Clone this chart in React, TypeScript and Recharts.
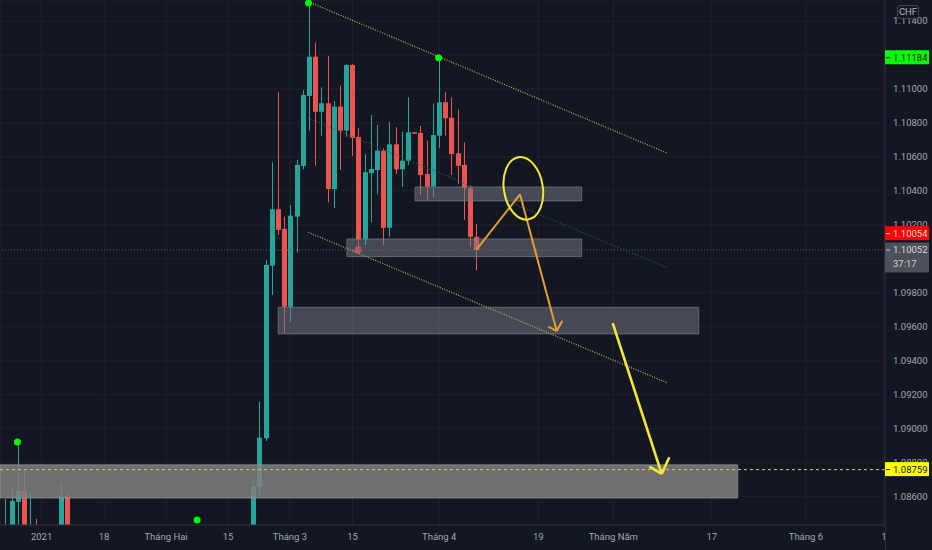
import React from "react";
import {
  ComposedChart,
  Bar,
  XAxis,
  YAxis,
  CartesianGrid,
  ReferenceArea,
  ReferenceLine,
  ReferenceDot,
} from "recharts";

// EUR/CHF daily bars, index = trading day counted from the left edge.
// Only bars that reach above the bottom edge of the pane are listed.
const barIndex = [
  0, 1, 2, 3, 4, 5, 9, 10,
  40, 41, 42, 43, 44, 45, 46, 47, 48, 49, 50, 51, 52, 53, 54, 55, 56, 57, 58,
  59, 60, 61, 62, 63, 64, 65, 66, 67, 68, 69, 70, 71, 72, 73, 74, 75, 76,
];
const opens = [
  1.0835, 1.0838, 1.08569, 1.08633, 1.0836, 1.084, 1.0837, 1.086,
  1.0838, 1.08659, 1.08944, 1.0996, 1.10292, 1.10176, 1.09718, 1.10248, 1.10547, 1.10959, 1.1119, 1.10866,
  1.10916, 1.10411, 1.10896, 1.10755, 1.11141, 1.10717, 1.10115, 1.10504, 1.10523, 1.10637, 1.10183, 1.10674,
  1.10527, 1.10578, 1.10745, 1.10741, 1.105, 1.10425, 1.10725, 1.10922, 1.10831, 1.10621, 1.10553, 1.10415, 1.1013,
];
const highs = [
  1.08586, 1.08651, 1.08922, 1.08757, 1.08633, 1.08469, 1.08681, 1.08635,
  1.0871, 1.09159, 1.09993, 1.10568, 1.10981, 1.10248, 1.10317, 1.10582, 1.10994, 1.11506, 1.11273, 1.1101,
  1.11194, 1.10929, 1.11019, 1.11145, 1.11147, 1.10769, 1.10616, 1.10847, 1.10788, 1.10651, 1.10808, 1.10775,
  1.10749, 1.10951, 1.10747, 1.10782, 1.10696, 1.10916, 1.11184, 1.10981, 1.10951, 1.1088, 1.10686, 1.10431, 1.10205,
];
const lows = [
  1.0828, 1.0832, 1.0838, 1.0832, 1.083, 1.083, 1.0834, 1.0832,
  1.0832, 1.08604, 1.08928, 1.09787, 1.10141, 1.09564, 1.0963, 1.10036, 1.10527, 1.10755, 1.10548, 1.10725,
  1.10333, 1.10298, 1.10523, 1.10719, 1.10607, 1.10033, 1.10082, 1.10213, 1.1038, 1.10082, 1.1013, 1.105,
  1.10425, 1.10553, 1.10735, 1.10376, 1.10347, 1.10362, 1.10651, 1.10725, 1.10494, 1.10441, 1.10229, 1.10072, 1.09934,
];
const closes = [
  1.084, 1.08575, 1.08633, 1.0838, 1.0841, 1.0836, 1.086, 1.0838,
  1.08659, 1.08947, 1.09964, 1.10292, 1.1017, 1.09718, 1.10254, 1.10553, 1.10965, 1.1119, 1.10866, 1.10916,
  1.10411, 1.10896, 1.10755, 1.11141, 1.10713, 1.10115, 1.1051, 1.10529, 1.10637, 1.10183, 1.10674, 1.10527,
  1.10578, 1.10745, 1.10737, 1.10494, 1.10425, 1.10729, 1.10922, 1.10828, 1.10617, 1.10548, 1.10419, 1.1013, 1.10052,
];

const xTickIndex = [5.9, 16, 26, 36, 46, 56.1, 70.1, 86.1, 98.2, 114.1, 129.3, 141.9];
const xTickLabels = ["2021", "18", "Tháng Hai", "15", "Tháng 3", "15", "Tháng 4", "19", "Tháng Năm", "17", "Tháng 6", "1"];
const priceTicks = [
  1.086, 1.088, 1.09, 1.092, 1.094, 1.096, 1.098, 1.1, 1.102, 1.104, 1.106, 1.108, 1.11, 1.112, 1.114,
];
// these two tick labels sit fully under the price tags
const hiddenTicks = [1.1, 1.112];

// pivot markers
const pivotHighs = [
  { x: 2, y: 1.08922 },
  { x: 31, y: 1.08463 },
  { x: 49, y: 1.11506 },
  { x: 70, y: 1.11184 },
];
const pivotLows = [{ x: 57, y: 1.10054 }];

// drawn zones
const zones = [
  { x1: -0.81, x2: 118.3, y1: 1.08592, y2: 1.08787, strong: true },
  { x1: 44.1, x2: 112.0, y1: 1.09558, y2: 1.09715, strong: false },
  { x1: 55.2, x2: 93.1, y1: 1.10013, y2: 1.10117, strong: false },
  { x1: 66.2, x2: 93.1, y1: 1.10341, y2: 1.10423, strong: false },
];

// channel
const channelTop = [{ x: 48.97, y: 1.11514 }, { x: 107.0, y: 1.10621 }];
const channelMid = [{ x: 48.9, y: 1.10829 }, { x: 107.0, y: 1.09946 }];
const channelBottom = [{ x: 48.97, y: 1.10156 }, { x: 107.0, y: 1.09269 }];

// arrows
const orangePath = [
  { x: 76.15, y: 1.10056 },
  { x: 83.14, y: 1.1038 },
  { x: 89.07, y: 1.09575 },
];
const orangeHead = [
  { x: 87.71, y: 1.09601 },
  { x: 89.07, y: 1.09575 },
  { x: 89.97, y: 1.09636 },
];
const yellowPath = [
  { x: 98.11, y: 1.09621 },
  { x: 106.02, y: 1.08734 },
];
const yellowHead = [
  { x: 104.02, y: 1.08777 },
  { x: 106.02, y: 1.08734 },
  { x: 107.25, y: 1.08832 },
];
const circleCenter = { x: 83.68, y: 1.10415 };

const lastPrice = 1.10052;
const targetLevel = 1.08759;

const X_MIN = -0.81;
const X_MAX = 142.07;
const Y_MIN = 1.08433;
const Y_MAX = 1.11524;

const BG = "#131722";
const AXIS = "#2a2e39";
const TEXT = "#a3a6af";
const FONT = "Roboto, sans-serif";

const candles = barIndex.map((x, k) => ({
  x,
  open: opens[k],
  high: highs[k],
  low: lows[k],
  close: closes[k],
}));

function Candle(props: any) {
  const { x, y, width, height, payload } = props;
  if (!payload || y == null) return null;
  const { open, close, high, low } = payload;
  const color = close >= open ? "#26a69a" : "#ef5350";
  const k = high === low ? 0 : height / (high - low);
  const py = (v: number) => y + (high - v) * k;
  const top = py(Math.max(open, close));
  const bot = py(Math.min(open, close));
  const cx = Math.round(x + width / 2) + 0.5;
  return (
    <g>
      <line x1={cx} x2={cx} y1={y} y2={y + height} stroke={color} strokeWidth={1} />
      <rect x={cx - 2.5} y={top} width={5} height={Math.max(1, bot - top)} fill={color} />
    </g>
  );
}

function segments(points: { x: number; y: number }[]) {
  const out: [{ x: number; y: number }, { x: number; y: number }][] = [];
  for (let i = 1; i < points.length; i++) out.push([points[i - 1], points[i]]);
  return out;
}

function priceTag(text: string, bg: string, fg: string, shift = 0, sub?: string) {
  return (p: any) => {
    const cx = p.cx;
    const cy = p.cy + shift;
    const h = sub ? 30 : 14;
    return (
      <g>
        <rect x={cx} y={cy - 7.5} width={44} height={h} fill={bg} />
        <line x1={cx + 1} x2={cx + 5} y1={cy} y2={cy} stroke={fg} strokeWidth={1} />
        <text x={cx + 8} y={cy} dy="0.35em" fill={fg} fontSize={9.5} fontFamily={FONT}>
          {text}
        </text>
        {sub && (
          <text x={cx + 8} y={cy + 14} dy="0.35em" fill={fg} fontSize={9.5} fontFamily={FONT}>
            {sub}
          </text>
        )}
      </g>
    );
  };
}

export default function App() {
  return (
    <div style={{ position: "absolute", left: 0, top: 0, width: 932, height: 550, background: BG, overflow: "hidden" }}>
      <ComposedChart width={932} height={550} data={candles} margin={{ top: 0, right: 0, bottom: 0, left: 0 }}>
        <CartesianGrid stroke="#1e222d" />
        <XAxis
          dataKey="x"
          type="number"
          domain={[X_MIN, X_MAX]}
          allowDataOverflow
          ticks={xTickIndex}
          interval={0}
          tickFormatter={(v: number) => xTickLabels[xTickIndex.indexOf(v)] ?? ""}
          height={25}
          tickLine={false}
          axisLine={{ stroke: AXIS }}
          tick={{ fill: TEXT, fontSize: 9.5, fontFamily: FONT }}
        />
        <YAxis
          orientation="right"
          type="number"
          domain={[Y_MIN, Y_MAX]}
          allowDataOverflow
          ticks={priceTicks}
          interval={0}
          tickFormatter={(v: number) => (hiddenTicks.includes(v) ? "" : v.toFixed(5))}
          width={47}
          tickLine={false}
          axisLine={{ stroke: AXIS }}
          tick={{ fill: TEXT, fontSize: 9.5, fontFamily: FONT }}
        />
        <Bar
          dataKey={(d: any) => [d.low, d.high]}
          barSize={5}
          shape={<Candle />}
          isAnimationActive={false}
        />
        {pivotLows.map((d, i) => (
          <ReferenceDot
            key={"pl" + i}
            x={d.x}
            y={d.y}
            r={3.5}
            fill="#f23645"
            stroke="none"
            zIndex={320}
          />
        ))}
        <ReferenceLine y={lastPrice} stroke="#5d606b" strokeDasharray="1 2" zIndex={310} />
        {zones.map((z, i) => (
          <ReferenceArea
            key={"z" + i}
            x1={z.x1}
            x2={z.x2}
            y1={z.y1}
            y2={z.y2}
            fill={z.strong ? "#808080" : "#787b86"}
            fillOpacity={z.strong ? 0.85 : 0.5}
            stroke={z.strong ? "#9598a1" : "#787b86"}
            strokeOpacity={0.7}
            ifOverflow="hidden"
            zIndex={350}
          />
        ))}
        <ReferenceLine y={targetLevel} stroke="#e3c957" strokeDasharray="3 3" zIndex={400} />
        {[channelTop, channelBottom].map((s, i) => (
          <ReferenceLine
            key={"ch" + i}
            segment={s}
            stroke="#c2ac47"
            strokeWidth={1.3}
            strokeDasharray="1 1.5"
            ifOverflow="visible"
            zIndex={400}
          />
        ))}
        <ReferenceLine
          segment={channelMid}
          stroke="#2f5c5e"
          strokeWidth={1.2}
          strokeDasharray="1 2"
          ifOverflow="visible"
          zIndex={400}
        />
        {segments(orangePath).concat(segments(orangeHead)).map((s, i) => (
          <ReferenceLine
            key={"o" + i}
            segment={s}
            stroke="#e89d2f"
            strokeWidth={2}
            ifOverflow="visible"
            zIndex={420}
          />
        ))}
        {segments(yellowPath).concat(segments(yellowHead)).map((s, i) => (
          <ReferenceLine
            key={"y" + i}
            segment={s}
            stroke="#f7e733"
            strokeWidth={2.6}
            ifOverflow="visible"
            zIndex={420}
          />
        ))}
        <ReferenceDot
          x={circleCenter.x}
          y={circleCenter.y}
          r={1}
          ifOverflow="visible"
          zIndex={430}
          shape={(p: any) => (
            <ellipse
              cx={p.cx}
              cy={p.cy}
              rx={19.5}
              ry={31.5}
              transform={`rotate(-9 ${p.cx} ${p.cy})`}
              fill="none"
              stroke="#f7e733"
              strokeWidth={2}
            />
          )}
        />
        {pivotHighs.map((d, i) => (
          <ReferenceDot
            key={"ph" + i}
            x={d.x}
            y={d.y}
            r={3.5}
            fill="#00f700"
            stroke="none"
            ifOverflow="visible"
            zIndex={600}
          />
        ))}
        <ReferenceDot
          x={X_MAX}
          y={1.11184}
          r={1}
          ifOverflow="visible"
          zIndex={2000}
          shape={priceTag("1.11184", "#00ff00", "#131722")}
        />
        <ReferenceDot
          x={X_MAX}
          y={1.10054}
          r={1}
          ifOverflow="visible"
          zIndex={2000}
          shape={priceTag("1.10054", "#ff0000", "#ffd6d6", -16)}
        />
        <ReferenceDot
          x={X_MAX}
          y={lastPrice}
          r={1}
          ifOverflow="visible"
          zIndex={2000}
          shape={priceTag("1.10052", "#4c505b", "#d1d4dc", 0, "37:17")}
        />
        <ReferenceDot
          x={X_MAX}
          y={targetLevel}
          r={1}
          ifOverflow="visible"
          zIndex={2000}
          shape={priceTag("1.08759", "#ffff00", "#131722")}
        />
      </ComposedChart>
      <div style={{ position: "absolute", left: 885, top: 525, width: 1, height: 25, background: AXIS }} />
      <div
        style={{
          position: "absolute",
          left: 897,
          top: 5,
          width: 22,
          height: 14,
          boxSizing: "border-box",
          border: "1px solid #434651",
          borderRadius: 3,
          background: "rgba(19,23,34,0.85)",
          color: "#b2b5be",
          fontFamily: FONT,
          fontSize: 9.5,
          lineHeight: "12px",
          textAlign: "center",
        }}
      >
        CHF
      </div>
    </div>
  );
}
